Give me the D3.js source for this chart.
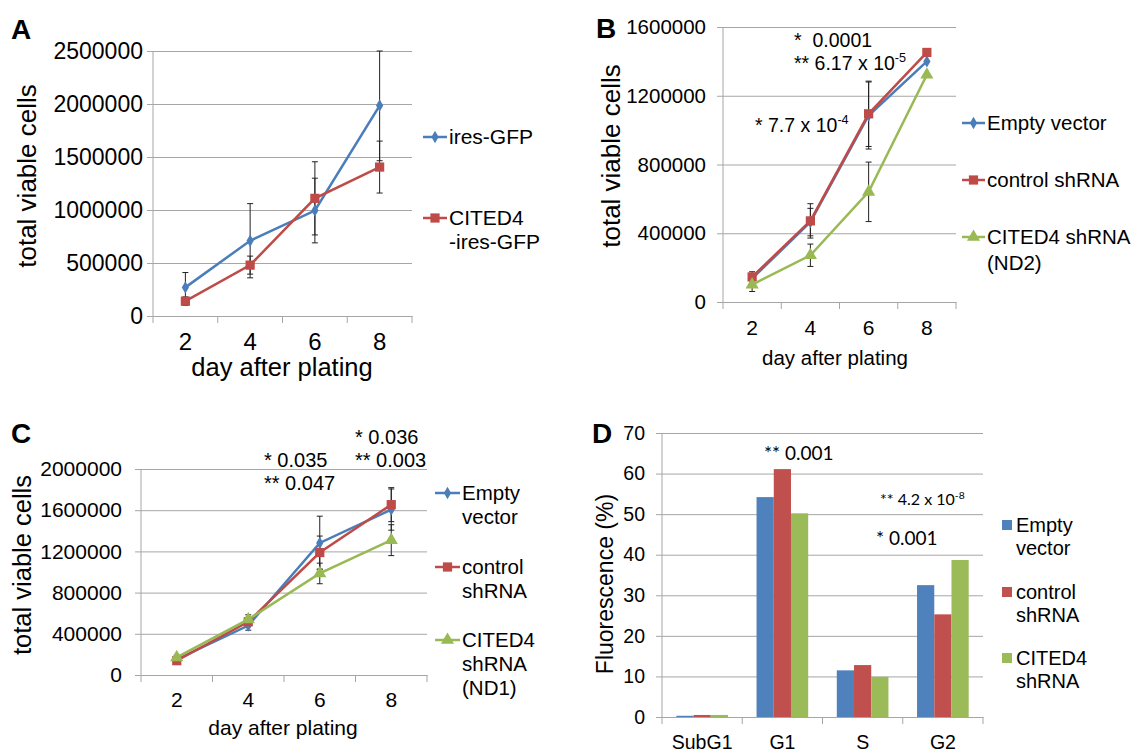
<!DOCTYPE html>
<html>
<head>
<meta charset="utf-8">
<script src="https://cdn.jsdelivr.net/npm/d3@7"></script>
<style>
  body { margin: 0; background: #fff; }
  text { white-space: pre; }
</style>
</head>
<body>
<script>
const days = ['2', '4', '6', '8'];

// A
const aGfp = [270000, 710000, 995000, 1985000];
const aGfpErr = [140000, 350000, 305000, 520000];
const aCited = [140000, 480000, 1110000, 1405000];
const aCitedErr = [40000, 85000, 345000, 245000];

// B
const bEmpty = [136000, 465000, 1085000, 1400000];
const bEmptyErr = [30000, 80000, 195000, 0];
const bControl = [146000, 472000, 1095000, 1452000];
const bControlErr = [30000, 100000, 190000, 0];
const bCited = [101000, 272000, 641000, 1322000];
const bCitedErr = [40000, 65000, 173000, 0];

// C
const cEmpty = [152000, 480000, 1282000, 1606000];
const cEmptyErr = [20000, 45000, 260000, 200000];
const cControl = [139000, 517000, 1189000, 1654000];
const cControlErr = [20000, 40000, 160000, 165000];
const cCited = [171000, 540000, 986000, 1309000];
const cCitedErr = [20000, 45000, 100000, 150000];

// D
const phases = ['SubG1', 'G1', 'S', 'G2'];
const dEmpty = [0.3, 54.2, 11.5, 32.5];
const dControl = [0.5, 61.1, 12.8, 25.3];
const dCited = [0.5, 50.2, 9.9, 38.7];

const FONT = '"Liberation Sans", Arial, Helvetica, sans-serif';
const BLUE = '#4a7ebb', RED = '#be4b48', GREEN = '#98b954';
const GRID = '#a6a6a6';

const svg = d3.select('body').append('svg')
  .attr('width', 1145)
  .attr('height', 752)
  .style('font-family', FONT);

function txt(x, y, str, size, opts = {}) {
  const t = svg.append('text')
    .attr('x', x)
    .attr('y', y)
    .attr('dy', '0.35em')
    .attr('font-size', size)
    .attr('fill', '#000')
    .attr('text-anchor', opts.anchor || 'start')
    .text(str);
  if (opts.weight) t.attr('font-weight', opts.weight);
  if (opts.family) t.attr('font-family', opts.family);
  if (opts.rotate) t.attr('transform', `rotate(-90,${x},${y})`);
  if (opts.sup) {
    t.append('tspan').attr('dy', -size * 0.38).attr('font-size', size * 0.65).text(opts.sup);
  }
  return t;
}

// gridlines, axes, tick labels and titles for one panel
function frame(p) {
  const x = d3.scaleBand().domain(p.cats).range([p.left, p.right]);
  const y = d3.scaleLinear().domain([0, p.yMax]).range([p.bottom, p.top]);

  svg.append('g')
    .attr('transform', `translate(${p.left - 6},0)`)
    .call(d3.axisLeft(y)
      .tickValues(d3.range(0, p.yMax + 1e-9, p.yStep))
      .tickSize(-(p.right - p.left + 6))
      .tickPadding(p.left - 6 - p.labelRight)
      .tickFormat(d3.format('d')))
    .attr('font-family', FONT)
    .attr('font-size', p.tickFont)
    .call(g => g.select('.domain').remove())
    .call(g => g.selectAll('.tick line').attr('stroke', GRID))
    .call(g => g.selectAll('.tick text').attr('fill', '#000'));

  svg.append('line')
    .attr('x1', p.left).attr('x2', p.left)
    .attr('y1', p.top).attr('y2', p.bottom)
    .attr('stroke', GRID);

  const xa = svg.append('g')
    .attr('transform', `translate(0,${p.bottom})`)
    .call(d3.axisBottom(x).tickSize(0))
    .attr('font-family', FONT)
    .attr('font-size', p.xFont);
  xa.select('.domain').attr('stroke', GRID);
  xa.selectAll('.tick text')
    .attr('fill', '#000')
    .attr('y', p.xLabelY - p.bottom)
    .attr('dy', '0.35em');

  const bounds = p.cats.map(c => x(c)).concat([p.right]);
  svg.append('g').selectAll('line')
    .data(bounds)
    .enter().append('line')
    .attr('x1', d => d).attr('x2', d => d)
    .attr('y1', p.bottom).attr('y2', p.bottom + 7)
    .attr('stroke', GRID);

  txt(p.yTitle[0], p.yTitle[1], p.yTitleText, p.yTitleFont, { anchor: 'middle', rotate: true });
  if (p.xTitle) txt(p.xTitle[0], p.xTitle[1], 'day after plating', p.xTitleFont, { anchor: 'middle' });
  return { x, y };
}

const symbols = {
  diamond: d3.symbol().type(d3.symbolDiamond).size(45),
  square: d3.symbol().type(d3.symbolSquare).size(85),
  triangle: d3.symbol().type(d3.symbolTriangle).size(75)
};

function lineSeries(p, x, y, series) {
  const cx = d => x(d) + x.bandwidth() / 2;
  series.forEach(s => {
    const g = svg.append('g');
    s.values.forEach((v, i) => {
      const e = s.err[i];
      if (!e) return;
      const px = cx(p.cats[i]);
      const hi = y(Math.min(v + e, p.yMax)), lo = y(Math.max(v - e, 0));
      g.append('line').attr('x1', px).attr('x2', px).attr('y1', hi).attr('y2', lo)
        .attr('stroke', '#222').attr('stroke-width', 1);
      [hi, lo].forEach(yy => g.append('line')
        .attr('x1', px - 3).attr('x2', px + 3).attr('y1', yy).attr('y2', yy)
        .attr('stroke', '#222').attr('stroke-width', 1));
    });
  });
  series.forEach(s => {
    svg.append('path')
      .datum(s.values)
      .attr('fill', 'none')
      .attr('stroke', s.color)
      .attr('stroke-width', 2.5)
      .attr('d', d3.line().x((d, i) => cx(p.cats[i])).y(d => y(d)));
    svg.append('g').selectAll('path')
      .data(s.values)
      .enter().append('path')
      .attr('d', symbols[s.symbol])
      .attr('fill', s.color)
      .attr('transform', (d, i) => `translate(${cx(p.cats[i])},${y(d)})`);
  });
}

function lineLegend(lg, series) {
  series.forEach((s, i) => {
    const yy = lg.ys[i];
    svg.append('line')
      .attr('x1', lg.x0).attr('x2', lg.x1)
      .attr('y1', yy).attr('y2', yy)
      .attr('stroke', s.color).attr('stroke-width', 2.5);
    svg.append('path')
      .attr('d', symbols[s.symbol])
      .attr('fill', s.color)
      .attr('transform', `translate(${(lg.x0 + lg.x1) / 2},${yy})`);
    s.label.forEach((line, j) => txt(lg.x1 + 2, yy + j * lg.lh, line, lg.font));
  });
}

// ---------- panel A ----------
const pA = {
  cats: days, left: 153, right: 412, top: 51, bottom: 316,
  yMax: 2500000, yStep: 500000, tickFont: 23, labelRight: 143,
  xFont: 24, xLabelY: 342,
  yTitleText: 'total viable cells', yTitle: [27, 176], yTitleFont: 26,
  xTitle: [282, 367], xTitleFont: 25.5
};
const sA = [
  { values: aGfp, err: aGfpErr, color: BLUE, symbol: 'diamond', label: ['ires-GFP'] },
  { values: aCited, err: aCitedErr, color: RED, symbol: 'square', label: ['CITED4', '-ires-GFP'] }
];
const fA = frame(pA);
lineSeries(pA, fA.x, fA.y, sA);
lineLegend({ x0: 423, x1: 447, ys: [137, 218], lh: 24, font: 21 }, sA);
txt(11, 29, 'A', 28, { weight: 'bold' });

// ---------- panel B ----------
const pB = {
  cats: days, left: 723, right: 956, top: 27, bottom: 302,
  yMax: 1600000, yStep: 400000, tickFont: 20.5, labelRight: 706,
  xFont: 21, xLabelY: 328,
  yTitleText: 'total viable cells', yTitle: [611, 156], yTitleFont: 26,
  xTitle: [835, 358], xTitleFont: 20.5
};
const sB = [
  { values: bEmpty, err: bEmptyErr, color: BLUE, symbol: 'diamond', label: ['Empty vector'] },
  { values: bControl, err: bControlErr, color: RED, symbol: 'square', label: ['control shRNA'] },
  { values: bCited, err: bCitedErr, color: GREEN, symbol: 'triangle', label: ['CITED4 shRNA', '(ND2)'] }
];
const fB = frame(pB);
lineSeries(pB, fB.x, fB.y, sB);
lineLegend({ x0: 962, x1: 985, ys: [123, 180, 237], lh: 26, font: 20.5 }, sB);
txt(596, 28, 'B', 28, { weight: 'bold' });
txt(794, 40, '*  0.0001', 19.5);
txt(794, 63, '** 6.17 x 10', 19.5, { sup: '-5' });
txt(755, 125, '* 7.7 x 10', 19.5, { sup: '-4' });

// ---------- panel C ----------
const pC = {
  cats: days, left: 141, right: 427, top: 469, bottom: 675,
  yMax: 2000000, yStep: 400000, tickFont: 21, labelRight: 122,
  xFont: 21, xLabelY: 700,
  yTitleText: 'total viable cells', yTitle: [22, 565], yTitleFont: 25.5,
  xTitle: [283, 728], xTitleFont: 21
};
const sC = [
  { values: cEmpty, err: cEmptyErr, color: BLUE, symbol: 'diamond', label: ['Empty', 'vector'] },
  { values: cControl, err: cControlErr, color: RED, symbol: 'square', label: ['control', 'shRNA'] },
  { values: cCited, err: cCitedErr, color: GREEN, symbol: 'triangle', label: ['CITED4', 'shRNA', '(ND1)'] }
];
const fC = frame(pC);
lineSeries(pC, fC.x, fC.y, sC);
lineLegend({ x0: 435, x1: 460, ys: [493, 567, 640], lh: 24, font: 20.5 }, sC);
txt(11, 433, 'C', 28, { weight: 'bold' });
txt(264, 460, '* 0.035', 20);
txt(264, 483, '** 0.047', 20);
txt(355, 437, '* 0.036', 20);
txt(355, 460, '** 0.003', 20);

// ---------- panel D ----------
const pD = {
  cats: phases, left: 662, right: 983, top: 433, bottom: 717,
  yMax: 70, yStep: 10, tickFont: 19.5, labelRight: 645,
  xFont: 19.5, xLabelY: 742,
  yTitleText: 'Fluorescence (%)', yTitle: [605, 584], yTitleFont: 23
};
const fD = frame(pD);
const sD = [
  { values: dEmpty, color: '#4f81bd', label: ['Empty', 'vector'] },
  { values: dControl, color: '#c0504d', label: ['control', 'shRNA'] },
  { values: dCited, color: '#9bbb59', label: ['CITED4', 'shRNA'] }
];
const inner = d3.scaleBand().domain(d3.range(sD.length))
  .range([0, fD.x.bandwidth()]).paddingInner(0).paddingOuter(0.83);
sD.forEach((s, k) => {
  svg.append('g').selectAll('rect')
    .data(s.values)
    .enter().append('rect')
    .attr('x', (d, i) => fD.x(phases[i]) + inner(k))
    .attr('y', d => fD.y(d))
    .attr('width', inner.bandwidth())
    .attr('height', d => pD.bottom - fD.y(d))
    .attr('fill', s.color);
});
const legD = { x: 1002, ys: [525, 592, 658], lh: 23, font: 20 };
sD.forEach((s, i) => {
  svg.append('rect')
    .attr('x', legD.x).attr('y', legD.ys[i] - 5)
    .attr('width', 10).attr('height', 10)
    .attr('fill', s.color);
  s.label.forEach((line, j) => txt(legD.x + 14, legD.ys[i] + j * legD.lh, line, legD.font));
});
txt(592, 433, 'D', 28, { weight: 'bold' });
txt(764, 453, '** 0.001', 19, { family: 'Lato, "Open Sans", sans-serif' });
txt(880, 499, '** 4.2 x 10', 16, { family: 'Lato, "Open Sans", sans-serif', sup: '-8' });
txt(876, 538, '* 0.001', 19, { family: 'Lato, "Open Sans", sans-serif' });
</script>
</body>
</html>
